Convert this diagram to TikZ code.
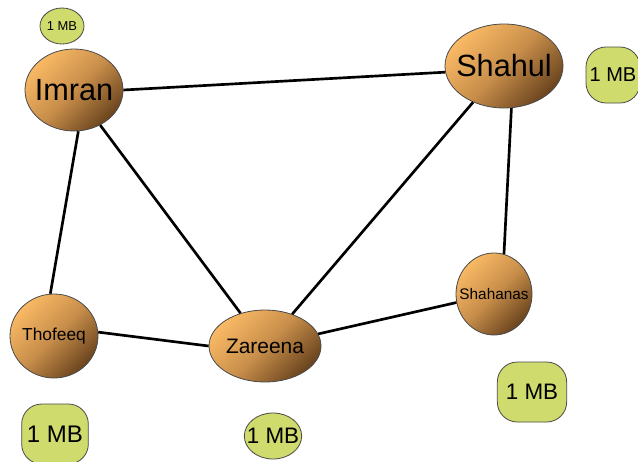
\documentclass[tikz,border=0pt]{standalone}
\usepackage{fontspec}
\setmainfont{Liberation Sans}
\usetikzlibrary{shapes.geometric}
\definecolor{orangelight}{HTML}{F9B965}
\definecolor{orangemid}{HTML}{C88E4A}
\definecolor{orangedark}{HTML}{6A441E}
\definecolor{mbgreen}{HTML}{CFDB6C}
\definecolor{rimgray}{HTML}{4A4A4A}

\begin{document}
\begin{tikzpicture}[x=0.75pt,y=-0.75pt]
\tikzstyle{every node}+=[inner sep=0pt]
\tikzstyle{person}=[ellipse,draw=rimgray,line width=0.6pt,inner xsep=-14pt,inner ysep=-8pt,
  top color=orangelight,bottom color=orangedark,middle color=orangemid,
  shading angle=45,text=black]
\tikzstyle{mbnode}=[ellipse,draw=rimgray,line width=0.6pt,inner xsep=-6pt,inner ysep=-4pt,fill=mbgreen,text=black]
\tikzstyle{mbround}=[rectangle,rounded corners=15pt,draw=rimgray,line width=0.6pt,fill=mbgreen,text=black]
\tikzstyle{link}=[black,line width=2pt]
\useasboundingbox (0,0) rectangle (638,461);
\clip (0,0) rectangle (638,461);
% people
\node [person,minimum width=73.5pt,minimum height=61.5pt,font=\fontsize{23}{23}\selectfont] (imran) at (74,90) {Imran};
\node [person,minimum width=88.5pt,minimum height=63pt,font=\fontsize{23}{23}\selectfont] (shahul) at (504,66) {Shahul};
\node [person,minimum width=66pt,minimum height=63pt,font=\fontsize{13}{13}\selectfont] (thofeeq) at (54,336) {Thofeeq};
\node [person,minimum width=84pt,minimum height=54pt,font=\fontsize{15.7}{16}\selectfont] (zareena) at (265,346) {Zareena};
\node [person,minimum width=57pt,minimum height=61.5pt,font=\fontsize{11.5}{12}\selectfont] (shahanas) at (494,294) {Shahanas};
% sizes
\node [mbnode,minimum width=33pt,minimum height=27pt,font=\fontsize{9.7}{10}\selectfont] (mbimran) at (62,26) {1 MB};
\node [mbround,minimum width=40.5pt,minimum height=42pt,font=\fontsize{15}{15}\selectfont] (mbshahul) at (613,75) {1 MB};
\node [mbround,minimum width=50pt,minimum height=45pt,font=\fontsize{18}{18}\selectfont] (mbthofeeq) at (55,434) {1 MB};
\node [mbnode,minimum width=43pt,minimum height=34.5pt,font=\fontsize{16.8}{17}\selectfont] (mbzareena) at (273,436) {1 MB};
\node [mbround,minimum width=52pt,minimum height=45pt,font=\fontsize{16.8}{17}\selectfont] (mbshahanas) at (532,392) {1 MB};
% links
\draw [link] (imran.east) -- (shahul.-174);
\draw [link] (imran.-84) -- (thofeeq.95);
\draw [link] (imran) -- (zareena);
\draw [link] (shahul) -- (zareena);
\draw [link] (shahul.-80) -- (shahanas.76);
\draw [link] (thofeeq.5) -- (zareena.west);
\draw [link] (zareena) -- (shahanas);
\end{tikzpicture}
\end{document}
